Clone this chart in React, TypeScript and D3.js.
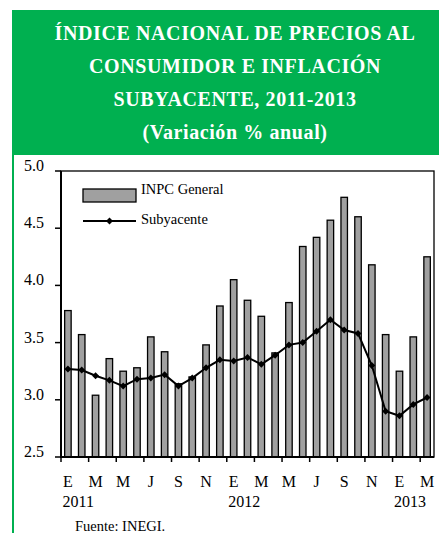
import React from "react";
import * as d3 from "d3";

const months = ["E","F","M","A","M","J","J","A","S","O","N","D","E","F","M","A","M","J","J","A","S","O","N","D","E","F","M"];
const years = [{ idx: 0, label: "2011" }, { idx: 12, label: "2012" }, { idx: 24, label: "2013" }];
const inpc = [3.78,3.57,3.04,3.36,3.25,3.28,3.55,3.42,3.14,3.20,3.48,3.82,4.05,3.87,3.73,3.41,3.85,4.34,4.42,4.57,4.77,4.60,4.18,3.57,3.25,3.55,4.25];
const subyacente = [3.27,3.26,3.21,3.17,3.12,3.18,3.19,3.22,3.12,3.19,3.28,3.35,3.34,3.37,3.31,3.39,3.48,3.50,3.60,3.70,3.61,3.58,3.30,2.90,2.86,2.96,3.02];
const yTicks = [2.5, 3.0, 3.5, 4.0, 4.5, 5.0];
const titleLines = ["ÍNDICE NACIONAL DE PRECIOS AL", "CONSUMIDOR E INFLACIÓN", "SUBYACENTE, 2011-2013", "(Variación % anual)"];

const W = 439, H = 533;
const plot = { left: 61, right: 434, top: 171, bottom: 457 };
const font = '"Liberation Serif"';
const green = "#00B050";

export default function App() {
  const idx = inpc.map((_, i) => i);
  const x = d3.scaleBand<number>().domain(idx).range([plot.left, plot.right]).padding(0);
  const bw = x.bandwidth();
  const y = d3.scaleLinear().domain([2.5, 5]).range([plot.bottom, plot.top]);
  const cx = (i: number) => (x(i) as number) + bw / 2;
  const line = d3.line<number>().x((_, i) => cx(i)).y((d) => y(d));
  const barW = bw * 0.47;
  const diamond = (px: number, py: number, r: number) =>
    `M${px},${py - r}L${px + r},${py}L${px},${py + r}L${px - r},${py}Z`;
  const ts = { fontFamily: font };

  return (
    <svg width={W} height={H} style={{ position: "absolute", left: 0, top: 0, background: "#fff" }}>
      <rect x={12} y={10} width={W - 12} height={145} fill={green} />
      <line x1={13} x2={13} y1={155} y2={H} stroke={green} strokeWidth={2} />
      {titleLines.map((t, i) => (
        <text key={i} x={235} y={40 + i * 33} textAnchor="middle" fill="#fff" fontWeight="bold" fontSize={20} style={{ ...ts, letterSpacing: "0.6px" }}>
          {t}
        </text>
      ))}

      <rect x={plot.left} y={plot.top} width={plot.right - plot.left} height={plot.bottom - plot.top} fill="none" stroke="#000" strokeWidth={1.3} />

      {inpc.map((v, i) => (
        <rect key={i} x={cx(i) - barW / 2} y={y(v)} width={barW} height={plot.bottom - y(v)} fill="#A0A0A0" stroke="#000" strokeWidth={1.3} />
      ))}

      <path d={line(subyacente) || ""} fill="none" stroke="#000" strokeWidth={2} />
      {subyacente.map((v, i) => (
        <path key={i} d={diamond(cx(i), y(v), 3.5)} fill="#000" />
      ))}

      <line x1={plot.left} x2={plot.left} y1={plot.top} y2={plot.bottom + 1} stroke="#000" strokeWidth={2} />
      <line x1={plot.left - 1} x2={plot.right} y1={plot.bottom} y2={plot.bottom} stroke="#000" strokeWidth={2} />
      {yTicks.map((t) => (
        <g key={t}>
          <line x1={plot.left - 6} x2={plot.left} y1={y(t)} y2={y(t)} stroke="#000" strokeWidth={1.5} />
          <text x={44} y={y(t)} textAnchor="end" fontSize={16} fill="#000" style={ts}>{t.toFixed(1)}</text>
        </g>
      ))}
      {idx.filter((i) => i % 2 === 0).map((i) => (
        <g key={i}>
          <line x1={x(i) as number} x2={x(i) as number} y1={plot.bottom} y2={plot.bottom + 5} stroke="#000" strokeWidth={1.5} />
          <text x={cx(i)} y={487} textAnchor="middle" fontSize={16} fill="#000" style={ts}>{months[i]}</text>
        </g>
      ))}
      {years.map((yr) => (
        <text key={yr.label} x={(x(yr.idx) as number) + 1.5} y={507} textAnchor="start" fontSize={16} fill="#000" style={ts}>{yr.label}</text>
      ))}

      <rect x={83} y={189} width={53} height={13} fill="#A0A0A0" stroke="#000" strokeWidth={1.3} />
      <text x={141} y={194} fontSize={14.5} fill="#000" style={ts}>INPC General</text>
      <line x1={83} x2={136} y1={221} y2={221} stroke="#000" strokeWidth={2} />
      <path d={diamond(109.5, 221, 3.5)} fill="#000" />
      <text x={141} y={224} fontSize={14.5} fill="#000" style={ts}>Subyacente</text>

      <text x={75} y={531} fontSize={14.5} fill="#000" style={ts}>Fuente: INEGI.</text>
    </svg>
  );
}
